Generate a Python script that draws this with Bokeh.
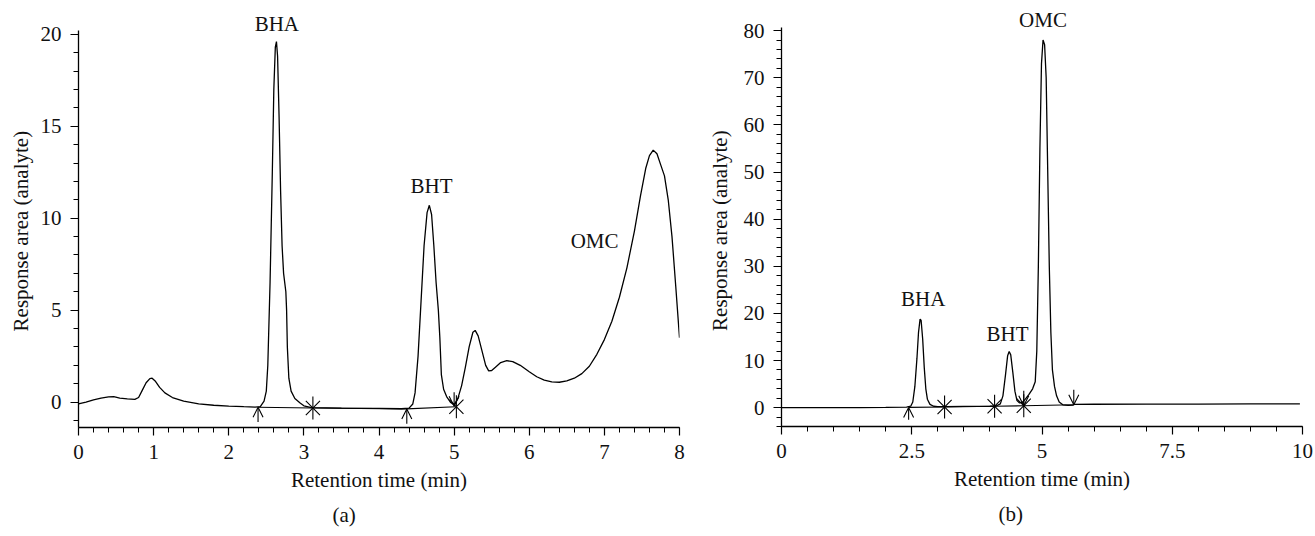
import numpy as np
from bokeh.plotting import figure
from bokeh.layouts import row
from bokeh.models import (Range1d, FixedTicker, Label, Arrow, OpenHead, Title,
                          ColumnDataSource, NumeralTickFormatter)
from bokeh.embed import file_html
from bokeh.resources import INLINE

FONT = "Liberation Serif"
FS = "21px"

# ---------------- panel (a) data ----------------
a_time = [0.00, 0.10, 0.20, 0.30, 0.40, 0.47, 0.55, 0.65, 0.75, 0.80, 0.85, 0.90,
          0.95, 0.98, 1.02, 1.08, 1.15, 1.25, 1.40, 1.60, 1.80, 2.00, 2.20, 2.35,
          2.42, 2.47, 2.50, 2.52, 2.55, 2.58, 2.60, 2.62, 2.635, 2.65, 2.67, 2.69,
          2.71, 2.73, 2.76, 2.77, 2.78, 2.80, 2.83, 2.88, 2.95, 3.00, 3.10, 3.50,
          4.00, 4.30, 4.40, 4.45, 4.48, 4.52, 4.56, 4.60, 4.64, 4.67, 4.70, 4.73,
          4.76, 4.79, 4.81, 4.83, 4.86, 4.90, 4.95, 5.00, 5.05, 5.10, 5.15, 5.20,
          5.25, 5.28, 5.32, 5.37, 5.42, 5.46, 5.50, 5.55, 5.62, 5.70, 5.78, 5.88,
          6.00, 6.10, 6.20, 6.30, 6.40, 6.50, 6.60, 6.70, 6.80, 6.90, 7.00, 7.10,
          7.20, 7.30, 7.40, 7.48, 7.55, 7.60, 7.65, 7.70, 7.75, 7.80, 7.85, 7.90,
          7.95, 8.00]
a_resp = [-0.10, 0.00, 0.12, 0.22, 0.28, 0.30, 0.22, 0.18, 0.15, 0.25, 0.65, 1.05,
          1.28, 1.30, 1.15, 0.80, 0.50, 0.25, 0.05, -0.10, -0.17, -0.22, -0.25, -0.27,
          -0.25, 0.05, 0.60, 2.0, 6.5, 12.5, 17.0, 19.3, 19.6, 18.8, 15.5, 11.5,
          8.5, 7.0, 6.0, 5.0, 3.0, 1.3, 0.6, 0.2, -0.05, -0.2, -0.3, -0.33,
          -0.34, -0.36, -0.33, -0.1, 0.5, 2.5, 5.5, 8.5, 10.3, 10.7, 10.2, 8.5,
          6.5, 5.0, 3.5, 1.5, 0.7, 0.3, 0.0, -0.15, 0.2, 0.9, 1.9, 3.0,
          3.8, 3.9, 3.6, 2.8, 2.0, 1.7, 1.72, 1.9, 2.15, 2.25, 2.2, 2.0,
          1.65, 1.38, 1.2, 1.1, 1.08, 1.15, 1.3, 1.55, 1.95, 2.6, 3.4, 4.4,
          5.7, 7.3, 9.3, 11.2, 12.7, 13.4, 13.7, 13.5, 12.9, 12.3, 11.0, 9.0,
          6.3, 3.5]
a_base_t = [2.39, 3.12, 4.37, 5.02]
a_base_y = [-0.28, -0.32, -0.37, -0.25]
a_up_t = [2.39, 4.37]
a_up_y = [-0.28, -0.37]
a_star_t = [3.12, 5.03]
a_star_y = [-0.32, -0.25]
a_down_t = [5.00]
a_down_y = [-0.22]
a_peak_names = ["BHA", "BHT", "OMC"]
a_peak_t = [2.64, 4.70, 6.87]
a_peak_y = [20.55, 11.75, 8.75]
a_xticks = [0, 1, 2, 3, 4, 5, 6, 7, 8]
a_yticks = [0, 5, 10, 15, 20]

# ---------------- panel (b) data ----------------
b_time = [0.0, 0.5, 1.0, 1.5, 2.0, 2.40, 2.48, 2.52, 2.56, 2.60, 2.63, 2.66,
          2.68, 2.71, 2.74, 2.77, 2.80, 2.85, 2.92, 3.00, 3.13, 3.50, 4.00, 4.12,
          4.20, 4.25, 4.30, 4.34, 4.37, 4.40, 4.44, 4.48, 4.52, 4.57, 4.62, 4.68,
          4.75, 4.82, 4.87, 4.90, 4.93, 4.96, 4.99, 5.02, 5.05, 5.08, 5.11, 5.14,
          5.17, 5.20, 5.24, 5.28, 5.33, 5.40, 5.50, 5.60, 5.62, 6.0, 7.0, 8.0,
          9.0, 9.95]
b_resp = [0.0, 0.0, 0.0, 0.02, 0.05, 0.10, 0.30, 1.2, 4.5, 10.5, 16.0, 18.8,
          18.5, 14.5, 8.5, 4.0, 1.8, 0.7, 0.3, 0.2, 0.2, 0.25, 0.3, 0.35,
          0.8, 2.5, 7.0, 11.0, 11.9, 11.2, 7.5, 3.5, 1.5, 1.0, 1.1, 1.8,
          2.8, 4.0, 5.5, 12.0, 30.0, 55.0, 73.0, 78.0, 77.0, 70.0, 50.0, 30.0,
          16.0, 8.0, 4.5, 2.5, 1.2, 0.6, 0.5, 0.55, 0.7, 0.72, 0.74, 0.76,
          0.78, 0.80]
b_base_t = [2.44, 3.13, 4.09, 4.65, 5.61]
b_base_y = [0.05, 0.15, 0.3, 0.4, 0.6]
b_up_t = [2.44]
b_up_y = [0.05]
b_star_t = [3.13, 4.09, 4.65]
b_star_y = [0.15, 0.3, 0.4]
b_down_t = [4.65, 5.61]
b_down_y = [0.4, 0.6]
b_peak_names = ["BHA", "BHT", "OMC"]
b_peak_t = [2.72, 4.34, 5.02]
b_peak_y = [23.0, 15.6, 82.2]
b_xticks = [0, 2.5, 5, 7.5, 10]
b_yticks = [0, 10, 20, 30, 40, 50, 60, 70, 80]

X_TITLE = "Retention time (min)"
Y_TITLE = "Response area (analyte)"
# non-breaking padding moves the centred y title down the axis, as in the original
Y_PAD = "\u00a0" * 5


def style_axes(p, ylab_standoff):
    p.grid.visible = False
    p.outline_line_color = None
    p.background_fill_color = "white"
    for ax in (p.xaxis[0], p.yaxis[0]):
        ax.axis_line_color = "black"
        ax.axis_line_width = 1.3
        ax.major_tick_line_color = "black"
        ax.minor_tick_line_color = "black"
        ax.major_tick_line_width = 1.2
        ax.minor_tick_line_width = 1.0
        ax.major_tick_out = 8
        ax.major_tick_in = 0
        ax.minor_tick_out = 5
        ax.minor_tick_in = 0
        ax.major_label_text_font = FONT
        ax.major_label_text_font_size = FS
        ax.major_label_text_color = "#111111"
        ax.axis_label_text_font = FONT
        ax.axis_label_text_font_size = FS
        ax.axis_label_text_font_style = "normal"
        ax.axis_label_text_color = "#111111"
        ax.major_label_standoff = 9
    p.xaxis.axis_label_standoff = 6
    p.yaxis.axis_label_standoff = ylab_standoff
    p.xaxis.axis_label = X_TITLE
    p.yaxis.axis_label = Y_TITLE + Y_PAD


def add_marks(p, base_t, base_y, up_t, up_y, up_len, star_t, star_y,
              down_t, down_y, down_len):
    p.line(base_t, base_y, line_color="black", line_width=1.1)
    up_src = ColumnDataSource(dict(x=up_t, y0=[v - up_len for v in up_y], y1=up_y))
    p.add_layout(Arrow(end=OpenHead(size=10, line_width=1.1, line_color="black"),
                       source=up_src, x_start="x", y_start="y0", x_end="x", y_end="y1",
                       line_width=1.1, line_color="black"))
    dn_src = ColumnDataSource(dict(x=down_t, y0=[v + down_len for v in down_y], y1=down_y))
    p.add_layout(Arrow(end=OpenHead(size=10, line_width=1.1, line_color="black"),
                       source=dn_src, x_start="x", y_start="y0", x_end="x", y_end="y1",
                       line_width=1.1, line_color="black"))
    p.scatter(star_t, star_y, marker="dash", size=23, angle=np.pi / 2,
              line_color="black", line_width=1.1)
    p.scatter(star_t, star_y, marker="x", size=20, line_color="black", line_width=1.1)


def add_names(p, names, tx, ty):
    for n, x, y in zip(names, tx, ty):
        p.add_layout(Label(x=x, y=y, text=n, text_align="center", text_baseline="middle",
                           text_font=FONT, text_font_size=FS, text_color="#111111"))


def add_caption(p, text, offset):
    p.add_layout(Title(text=text, align="left", offset=offset, standoff=12,
                       text_font=FONT, text_font_size=FS, text_font_style="normal",
                       text_color="#111111"), "below")


# ---------------- figure (a) ----------------
a_ybounds = (-1.38, 20.2)
pa = figure(frame_width=601, frame_height=419, x_range=Range1d(0, 8),
            y_range=Range1d(-1.38, 21.4), output_backend="svg", toolbar_location=None,
            min_border_left=78, min_border_right=21, min_border_top=8,
            min_border_bottom=108)
style_axes(pa, 5)
pa.yaxis.bounds = a_ybounds
pa.xaxis.ticker = FixedTicker(ticks=a_xticks,
                              minor_ticks=list(np.arange(0, 8.001, 0.2)))
pa.yaxis.ticker = FixedTicker(ticks=a_yticks,
                              minor_ticks=list(np.arange(-1, 20.001, 1.0)))
pa.line(a_time, a_resp, line_color="black", line_width=1.3)
add_marks(pa, a_base_t, a_base_y, a_up_t, a_up_y, 0.8, a_star_t, a_star_y,
          a_down_t, a_down_y, 0.75)
add_names(pa, a_peak_names, a_peak_t, a_peak_y)
add_caption(pa, "(a)", 254)

# ---------------- figure (b) ----------------
b_ybounds = (-4, 80.64)
pb = figure(frame_width=521, frame_height=418, x_range=Range1d(0, 10),
            y_range=Range1d(-4, 84.7), output_backend="svg", toolbar_location=None,
            min_border_left=81, min_border_right=12, min_border_top=8,
            min_border_bottom=109)
style_axes(pb, 9)
pb.yaxis.bounds = b_ybounds
pb.xaxis.ticker = FixedTicker(ticks=b_xticks,
                              minor_ticks=list(np.arange(0, 10.001, 0.5)))
pb.yaxis.ticker = FixedTicker(ticks=b_yticks,
                              minor_ticks=list(np.arange(-4, 80.001, 2.0)))
pb.xaxis.formatter = NumeralTickFormatter(format="0.[0]")
pb.line(b_time, b_resp, line_color="black", line_width=1.3)
add_marks(pb, b_base_t, b_base_y, b_up_t, b_up_y, 2.6, b_star_t, b_star_y,
          b_down_t, b_down_y, 3.2)
add_names(pb, b_peak_names, b_peak_t, b_peak_y)
add_caption(pb, "(b)", 217)

layout = row(pa, pb)
open("out.html", "w").write(file_html(layout, INLINE))
